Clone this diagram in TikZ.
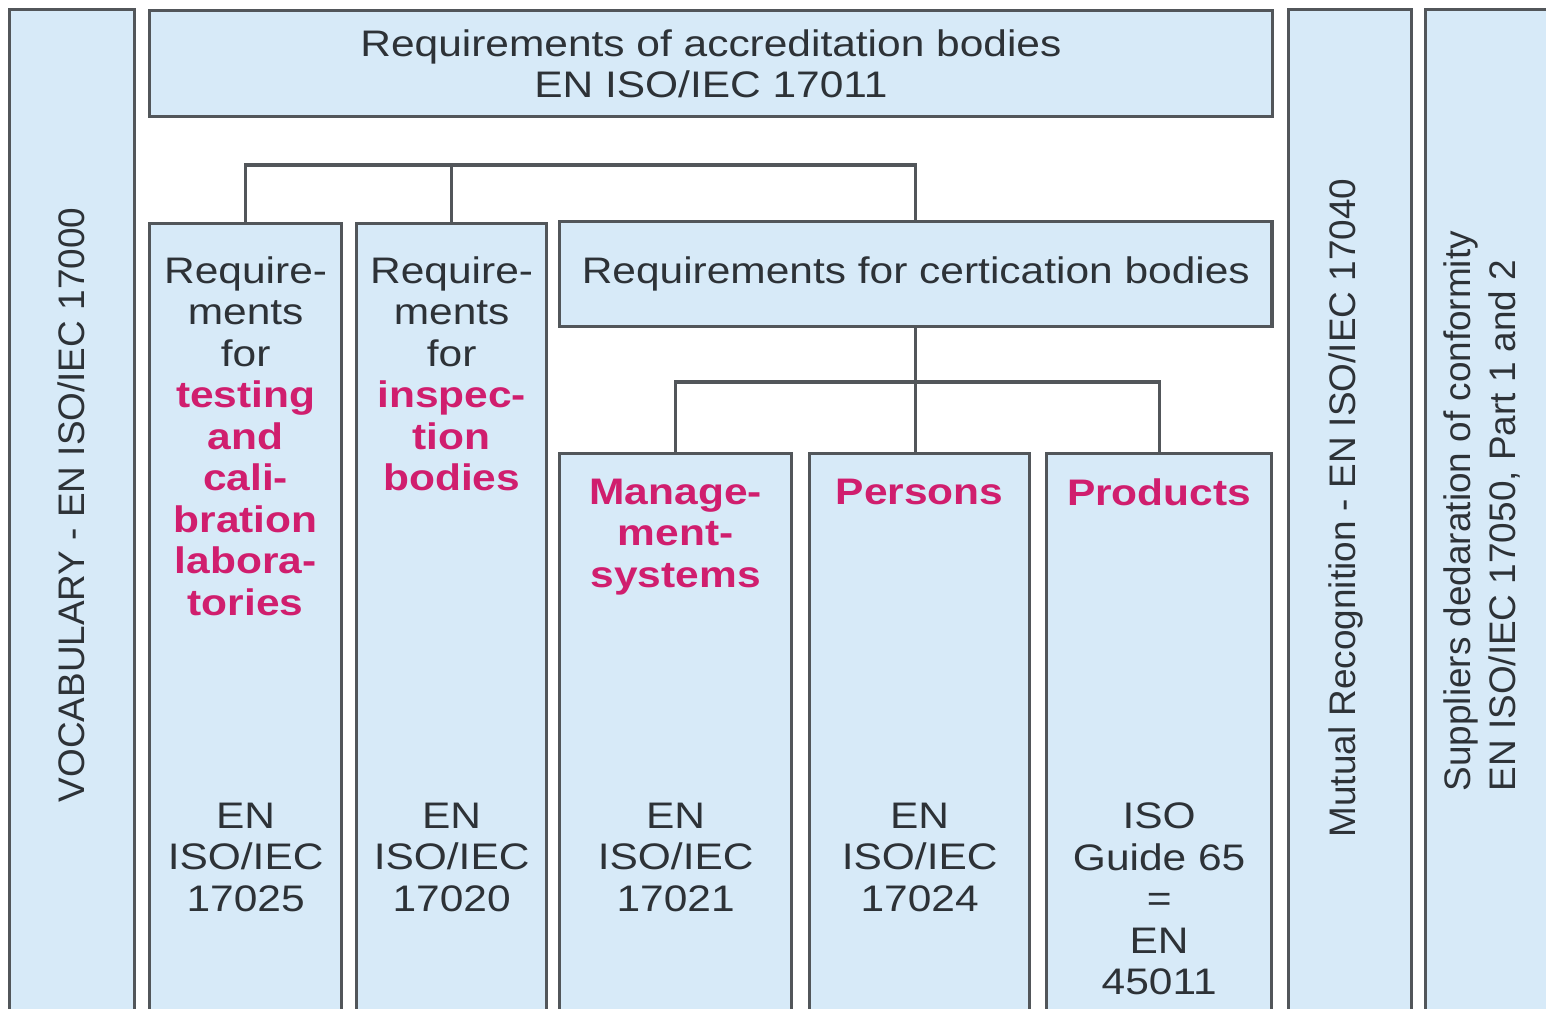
\documentclass[tikz,border=0pt]{standalone}
\usepackage{fontspec}
\setmainfont{Liberation Sans}[FakeStretch=1.15]
\newfontfamily\plainsans{Liberation Sans}
\usetikzlibrary{positioning,calc}
\definecolor{boxblue}{RGB}{215,234,248}
\definecolor{boxline}{RGB}{82,86,90}
\definecolor{ink}{RGB}{45,50,55}
\definecolor{rose}{RGB}{208,30,110}
\newcommand{\hl}[1]{{\bfseries\color{rose}#1}}

\begin{document}
\begin{tikzpicture}[x=0.01cm, y=-0.01cm,
        panel/.style={rectangle, draw=boxline, fill=boxblue, line width=0.9pt, inner sep=0pt, anchor=north west},
        txt/.style={align=center, inner sep=0pt, text=ink, font=\fontsize{10.5}{11.8}\selectfont},
        side/.style={rotate=90, inner sep=0pt, text=ink, font=\plainsans\fontsize{10.5}{12.8}\selectfont},
        link/.style={draw=boxline, line width=0.9pt}]

        \useasboundingbox (0,0) rectangle (1546,1008);
        \clip (0,0) rectangle (1546,1008);

        \node[panel, minimum width=1.25cm, minimum height=10.2cm] (vocab) at (8,8) {};
        \node[panel, txt, minimum width=11.22cm, minimum height=1.06cm] (accr) at (148,9) {Requirements of accreditation bodies\\EN ISO/IEC 17011};
        \node[panel, minimum width=1.23cm, minimum height=10.2cm] (mutual) at (1287,8) {};
        \node[panel, minimum width=1.4cm, minimum height=10.2cm] (suppl) at (1424,8) {};
        \node[panel, minimum width=1.92cm, minimum height=8cm] (test) at (148,222) {};
        \node[panel, minimum width=1.90cm, minimum height=8cm] (insp) at (355,222) {};
        \node[panel, txt, minimum width=7.12cm, minimum height=1.05cm] (cert) at (558,220) {Requirements for certication bodies};
        \node[panel, minimum width=2.32cm, minimum height=5.7cm] (mgmt) at (558,452) {};
        \node[panel, minimum width=2.20cm, minimum height=5.7cm] (pers) at (808,452) {};
        \node[panel, minimum width=2.25cm, minimum height=5.7cm] (prod) at (1045,452) {};

        \node[txt, below=0.34cm of test.north] (testtop) {Require-\\ments\\for\\\hl{testing}\\\hl{and}\\\hl{cali-}\\\hl{bration}\\\hl{labora-}\\\hl{tories}};
        \node[txt, below=0.34cm of insp.north] (insptop) {Require-\\ments\\for\\\hl{inspec-}\\\hl{tion}\\\hl{bodies}};
        \node[txt, below=0.26cm of mgmt.north] (mgmttop) {\hl{Manage-}\\\hl{ment-}\\\hl{systems}};
        \node[txt, below=0.26cm of pers.north] (perstop) {\hl{Persons}};
        \node[txt, below=0.26cm of prod.north] (prodtop) {\hl{Products}};

        \node[txt, below=5.8cm of test.north] (testno) {EN\\ISO/IEC\\17025};
        \node[txt, below=5.8cm of insp.north] (inspno) {EN\\ISO/IEC\\17020};
        \node[txt, below=3.5cm of mgmt.north] (mgmtno) {EN\\ISO/IEC\\17021};
        \node[txt, below=3.5cm of pers.north] (persno) {EN\\ISO/IEC\\17024};
        \node[txt, below=3.5cm of prod.north] (prodno) {ISO\\Guide 65\\=\\EN\\45011};

        \node[side] (vocabtxt) at (71,505) {VOCABULARY - EN ISO/IEC 17000};
        \node[side] (mutualtxt) at (1346,508) {Mutual Recognition - EN ISO/IEC 17040};
        \node[side, anchor=west, align=left] (suppltxt) at (1482,792) {Suppliers dedaration of conformity\\EN ISO/IEC 17050, Part 1 and 2};

        \coordinate (bar1) at (0,165);
        \coordinate (bar2) at (0,382);
        \draw[link] (test.north) |- (bar1 -| cert.north) -- (cert.north);
        \draw[link] (insp.north) -- (insp.north |- bar1);
        \draw[link] (mgmt.north) |- (bar2 -| prod.north) -- (prod.north);
        \draw[link] (cert.south) -- (cert.south |- pers.north);
    \end{tikzpicture}
\end{document}
